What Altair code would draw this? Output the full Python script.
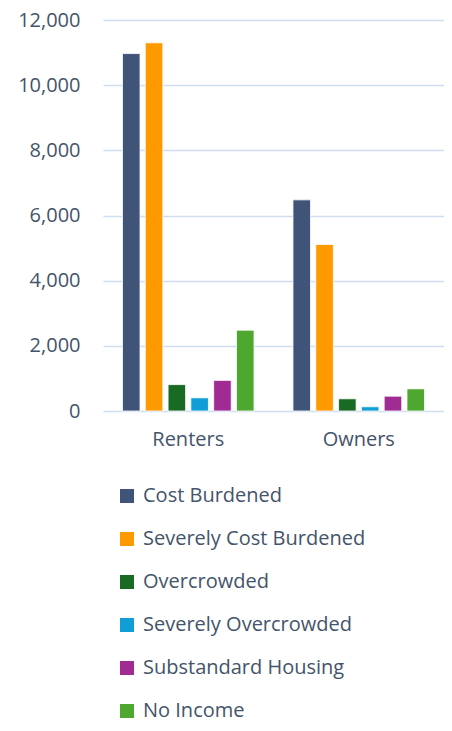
import altair as alt
import pandas as pd

groups = ["Renters", "Owners"]
series = ["Cost Burdened", "Severely Cost Burdened", "Overcrowded",
          "Severely Overcrowded", "Substandard Housing", "No Income"]
renters = [10970, 11300, 810, 405, 940, 2480]
owners = [6480, 5110, 375, 130, 455, 680]
colors = ["#405378", "#FF9900", "#196B24", "#0F9ED5", "#A02B93", "#4EA72E"]
y_ticks = [0, 2000, 4000, 6000, 8000, 10000, 12000]

rows = []
for g, vals in zip(groups, [renters, owners]):
    for s, v in zip(series, vals):
        rows.append({"group": g, "series": s, "value": v})
df = pd.DataFrame(rows)

FONT = "Open Sans"
TXT = "#44546A"

chart = alt.Chart(df).mark_bar(stroke="white", strokeWidth=0.8).encode(
    x=alt.X("group:N", sort=groups, title=None,
            scale=alt.Scale(paddingInner=0, paddingOuter=0),
            axis=alt.Axis(labelAngle=0, domain=False, ticks=False, labelFont=FONT,
                          labelFontSize=20, labelColor=TXT, labelPadding=18)),
    xOffset=alt.XOffset("series:N", sort=series,
                        scale=alt.Scale(paddingInner=0.23, paddingOuter=0.854)),
    y=alt.Y("value:Q", title=None,
            scale=alt.Scale(domain=[0, 12000], nice=False),
            axis=alt.Axis(values=y_ticks, format=",.0f", domain=False, ticks=False,
                          labelFont=FONT, labelFontSize=20, labelColor=TXT,
                          labelPadding=23, gridColor="#CFDEF1", gridWidth=1.5)),
    color=alt.Color("series:N", sort=series, title=None,
                    scale=alt.Scale(domain=series, range=colors),
                    legend=alt.Legend(orient="none", legendX=14, legendY=466,
                                      direction="vertical", symbolType="square",
                                      symbolSize=196, symbolStrokeWidth=0,
                                      labelFont=FONT, labelFontSize=20,
                                      labelColor=TXT, labelOffset=6, labelLimit=400,
                                      rowPadding=23, padding=0)),
).properties(
    width=341, height=391,
    autosize=alt.AutoSizeParams(type="none"),
    padding={"left": 95, "top": 12, "right": 0, "bottom": 312},
).configure_view(stroke=None)

chart.save("out.html", embed_options={"renderer": "svg", "actions": False})
